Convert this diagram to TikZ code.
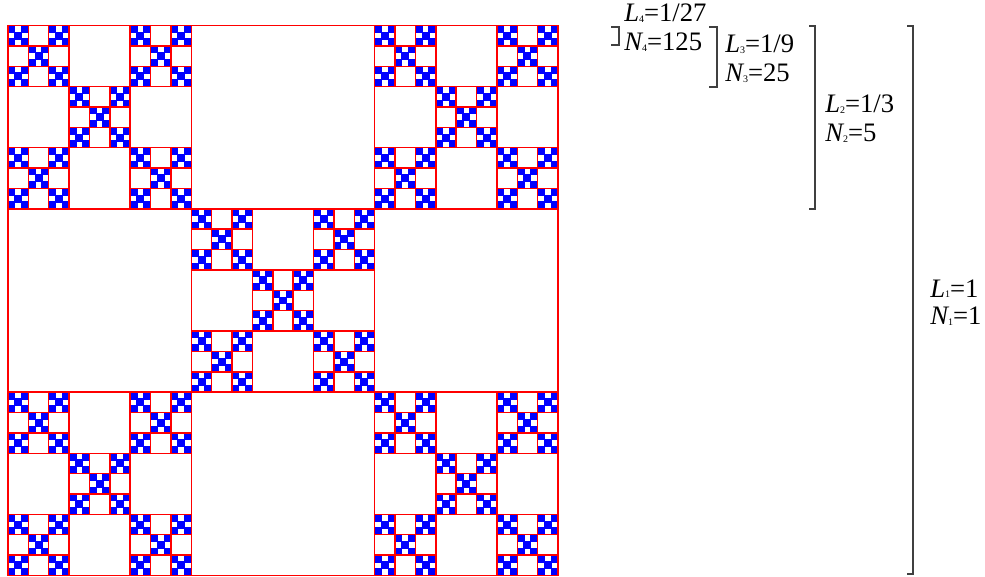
\documentclass[tikz,border=0pt]{standalone}
\usepackage{fontspec}
\setmainfont{Liberation Serif}
\newcommand{\flab}[3]{{\itshape #1}\raisebox{-0.4pt}{\fontsize{7.5}{8}\selectfont #2}=#3}
\begin{document}
\begin{tikzpicture}[x=0.75pt,y=-0.75pt,
  lbl/.style={anchor=base west,inner sep=0pt,font=\fontsize{20}{24}\selectfont},
  brk/.style={draw=black!75,line width=0.9pt},
  frame/.style={draw=red,line width=1.1pt},
  cell/.style={fill=blue,draw=blue,line width=0.9pt}]
\useasboundingbox (0,0) rectangle (985,577);
% fractal
\begin{scope}[shift={(8,25.5)},x=5.0926pt,y=-5.0926pt]
\foreach \ax/\ay in {0/0,2/0,1/1,0/2,2/2}{
 \foreach \bx/\by in {0/0,2/0,1/1,0/2,2/2}{
  \foreach \cx/\cy in {0/0,2/0,1/1,0/2,2/2}{
   \foreach \dx/\dy in {0/0,2/0,1/1,0/2,2/2}{
     \filldraw[cell] ({27*\ax+9*\bx+3*\cx+\dx},{27*\ay+9*\by+3*\cy+\dy}) rectangle ++(1,1);
   }}}}
\foreach \ax/\ay in {0/0,2/0,1/1,0/2,2/2}{
 \draw[frame] ({27*\ax},{27*\ay}) rectangle ++(27,27);
 \foreach \bx/\by in {0/0,2/0,1/1,0/2,2/2}{
  \draw[frame] ({27*\ax+9*\bx},{27*\ay+9*\by}) rectangle ++(9,9);
  \foreach \cx/\cy in {0/0,2/0,1/1,0/2,2/2}{
   \draw[frame] ({27*\ax+9*\bx+3*\cx},{27*\ay+9*\by+3*\cy}) rectangle ++(3,3);
  }}}
\draw[frame,line width=1.3pt] (0,0) rectangle (81,81);
\end{scope}
% brackets
\coordinate (b4t) at (619,27); \coordinate (b4b) at (619,45);
\coordinate (b3t) at (717,27); \coordinate (b3b) at (717,87);
\coordinate (b2t) at (815,26); \coordinate (b2b) at (815,209);
\coordinate (b1t) at (913,26); \coordinate (b1b) at (913,574);
\draw[brk] ([xshift=-6pt]b4t) -- (b4t) -- (b4b) -- ([xshift=-6pt]b4b);
\draw[brk] ([xshift=-6pt]b3t) -- (b3t) -- (b3b) -- ([xshift=-6pt]b3b);
\draw[brk] ([xshift=-4.5pt]b2t) -- (b2t) -- (b2b) -- ([xshift=-4.5pt]b2b);
\draw[brk] ([xshift=-4.5pt]b1t) -- (b1t) -- (b1b) -- ([xshift=-4.5pt]b1b);
% labels
\node[lbl] (l4) at (624,22) {\flab{L}{4}{1/27}};
\node[lbl] (n4) at (624,51) {\flab{N}{4}{125}};
\node[lbl] (l3) at (725,53) {\flab{L}{3}{1/9}};
\node[lbl] (n3) at (725,82) {\flab{N}{3}{25}};
\node[lbl] (l2) at (825,113) {\flab{L}{2}{1/3}};
\node[lbl] (n2) at (825,142) {\flab{N}{2}{5}};
\node[lbl] (l1) at (930,297) {\flab{L}{1}{1}};
\node[lbl] (n1) at (930,325) {\flab{N}{1}{1}};
\end{tikzpicture}
\end{document}
